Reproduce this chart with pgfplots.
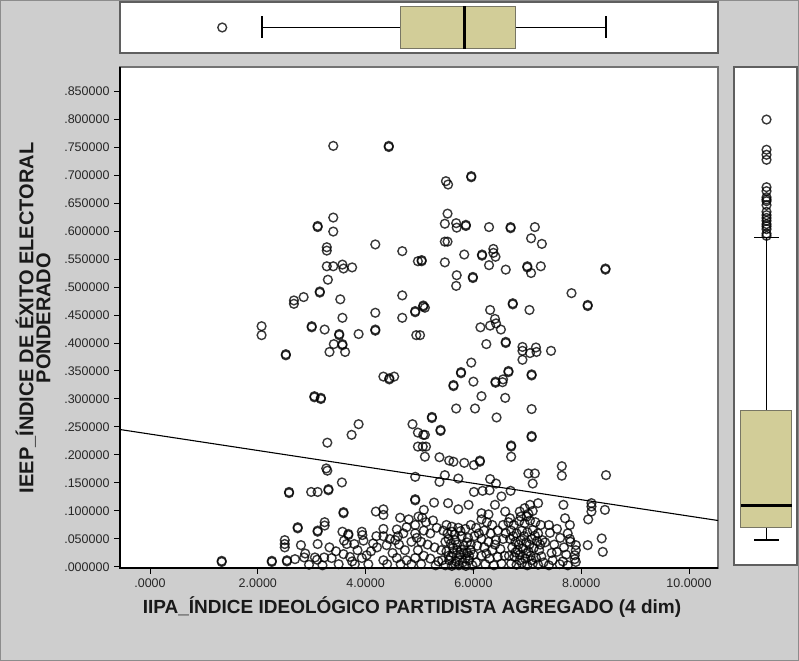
\documentclass[border=0pt]{standalone}
\usepackage{pgfplots}
\pgfplotsset{compat=1.18}
\usepackage{pgfplotstable}
\usepackage{fontspec}
\setmainfont{Liberation Sans}

\definecolor{chartbg}{RGB}{206,206,206}
\definecolor{boxfill}{RGB}{210,205,152}
\definecolor{boxedge}{RGB}{120,118,100}
\definecolor{framegray}{RGB}{95,95,95}

% IIPA (x) vs IEEP (y)
\pgfplotstableread{
x y
3.40 0.752
4.43 0.752
4.43 0.750
3.40 0.624
3.11 0.609
3.11 0.607
3.40 0.599
4.18 0.576
4.68 0.564
4.97 0.546
3.28 0.571
3.28 0.565
3.28 0.537
3.40 0.537
3.57 0.540
3.59 0.533
3.75 0.535
3.30 0.513
3.15 0.492
3.15 0.490
2.85 0.482
2.67 0.476
2.67 0.470
3.53 0.478
4.68 0.485
3.57 0.445
4.18 0.454
4.68 0.445
4.92 0.457
4.92 0.455
5.49 0.689
5.53 0.683
5.96 0.698
5.96 0.696
5.52 0.631
5.47 0.613
5.68 0.614
5.69 0.606
5.86 0.611
5.86 0.609
6.29 0.607
6.69 0.607
6.69 0.605
7.14 0.607
7.07 0.587
7.27 0.577
5.47 0.581
5.52 0.581
5.04 0.548
5.04 0.546
5.47 0.544
5.83 0.558
6.16 0.558
6.16 0.556
6.37 0.568
6.37 0.561
6.41 0.554
6.29 0.539
6.60 0.531
7.00 0.537
7.00 0.535
7.07 0.525
7.25 0.537
8.45 0.533
8.45 0.531
5.69 0.521
5.68 0.502
5.99 0.518
5.99 0.516
7.82 0.489
8.12 0.468
8.12 0.466
6.73 0.471
6.73 0.469
6.31 0.459
7.04 0.459
5.07 0.467
5.10 0.463
5.07 0.465
6.40 0.443
2.07 0.430
2.07 0.414
3.00 0.430
3.00 0.428
3.24 0.424
3.51 0.416
3.51 0.414
3.41 0.398
3.57 0.398
3.57 0.396
3.33 0.384
3.62 0.384
2.52 0.380
2.52 0.378
3.87 0.416
4.18 0.424
4.18 0.422
4.94 0.414
4.33 0.340
4.44 0.337
4.44 0.335
4.53 0.340
3.05 0.305
3.05 0.303
3.17 0.302
3.17 0.300
4.87 0.255
4.97 0.240
4.97 0.215
3.87 0.255
3.74 0.236
3.29 0.222
3.27 0.176
3.29 0.172
6.13 0.428
6.31 0.431
6.42 0.435
6.51 0.424
5.01 0.414
6.24 0.398
6.60 0.402
6.60 0.400
6.91 0.393
6.91 0.386
7.05 0.382
7.16 0.392
7.17 0.384
7.44 0.386
6.91 0.370
5.96 0.365
5.77 0.348
5.77 0.346
5.63 0.325
5.63 0.323
6.00 0.331
6.41 0.331
6.41 0.329
6.55 0.335
6.54 0.330
6.65 0.350
6.65 0.348
7.08 0.344
7.08 0.342
6.15 0.305
6.59 0.302
5.68 0.283
6.03 0.283
6.43 0.267
7.08 0.282
5.23 0.268
5.23 0.266
5.39 0.245
5.39 0.243
7.08 0.234
7.08 0.232
6.70 0.217
6.70 0.215
6.70 0.197
5.07 0.236
5.10 0.236
5.06 0.215
5.12 0.215
5.10 0.197
5.37 0.196
5.55 0.190
5.63 0.188
5.83 0.186
6.01 0.182
6.12 0.190
6.12 0.188
7.64 0.180
4.92 0.161
3.56 0.151
2.58 0.134
2.58 0.132
2.99 0.134
3.11 0.134
3.31 0.139
3.31 0.137
4.92 0.121
4.92 0.119
3.59 0.098
3.59 0.096
4.19 0.099
4.33 0.103
4.33 0.093
4.64 0.088
2.74 0.071
2.74 0.069
3.11 0.065
3.11 0.063
3.24 0.080
3.24 0.074
3.57 0.063
3.68 0.059
3.68 0.057
3.93 0.063
3.94 0.057
4.33 0.068
4.33 0.055
4.58 0.067
4.76 0.071
4.92 0.075
4.92 0.060
2.50 0.048
2.50 0.041
2.50 0.035
2.80 0.039
3.11 0.041
3.33 0.035
3.60 0.047
3.65 0.041
3.79 0.041
3.96 0.047
4.14 0.042
4.21 0.035
4.39 0.039
4.55 0.048
2.88 0.024
2.86 0.017
3.06 0.017
3.23 0.017
3.37 0.016
3.59 0.023
3.71 0.018
3.93 0.016
4.02 0.021
4.33 0.012
4.58 0.016
4.73 0.030
4.92 0.016
4.76 0.012
1.33 0.011
1.33 0.009
2.26 0.011
2.26 0.009
2.54 0.012
2.54 0.010
2.69 0.014
3.10 0.013
4.20 0.055
4.45 0.050
4.62 0.040
4.70 0.060
4.85 0.045
4.97 0.030
4.50 0.025
4.65 0.005
4.85 0.005
4.40 0.005
4.05 0.005
3.80 0.005
3.50 0.005
3.20 0.003
2.95 0.004
4.80 0.085
4.98 0.090
4.10 0.028
3.85 0.030
4.95 0.052
4.60 0.055
3.45 0.028
3.75 0.010
5.47 0.164
5.72 0.158
5.37 0.152
6.31 0.157
6.42 0.149
7.02 0.167
7.14 0.167
7.10 0.149
7.64 0.163
6.01 0.134
6.17 0.136
6.30 0.137
6.69 0.136
6.52 0.126
5.27 0.115
5.53 0.114
5.72 0.103
5.91 0.111
6.40 0.111
6.59 0.099
7.05 0.111
7.20 0.114
7.67 0.111
5.08 0.102
6.15 0.096
6.28 0.094
6.68 0.087
6.86 0.099
6.99 0.090
7.70 0.087
5.05 0.088
5.12 0.080
5.25 0.083
5.32 0.070
5.08 0.065
5.20 0.060
5.03 0.045
5.15 0.040
5.28 0.035
5.08 0.020
5.20 0.015
5.35 0.010
5.03 0.005
5.30 0.003
5.50 0.075
5.60 0.072
5.72 0.070
5.85 0.068
5.95 0.075
6.05 0.070
5.52 0.060
5.65 0.058
5.78 0.055
5.90 0.052
6.02 0.055
5.48 0.045
5.58 0.042
5.70 0.040
5.82 0.038
5.95 0.040
6.07 0.038
5.50 0.028
5.62 0.025
5.75 0.022
5.88 0.025
6.00 0.022
5.55 0.012
5.68 0.010
5.80 0.008
5.92 0.012
6.05 0.008
5.48 0.003
5.60 0.002
5.73 0.003
5.86 0.002
5.98 0.003
5.58 0.018
5.70 0.030
5.85 0.015
5.95 0.030
5.54 0.050
5.66 0.048
5.76 0.064
5.88 0.044
5.62 0.034
5.78 0.031
5.92 0.020
5.54 0.020
5.66 0.006
5.82 0.026
5.44 0.065
5.40 0.030
5.42 0.012
5.60 0.063
5.74 0.012
6.15 0.085
6.25 0.080
6.35 0.075
6.20 0.065
6.32 0.060
6.15 0.050
6.28 0.045
6.42 0.048
6.55 0.050
6.20 0.035
6.35 0.030
6.50 0.032
6.15 0.020
6.30 0.015
6.45 0.018
6.58 0.020
6.22 0.005
6.38 0.003
6.52 0.006
6.45 0.065
6.55 0.075
6.60 0.060
6.10 0.060
6.24 0.024
6.40 0.040
6.65 0.080
6.75 0.075
6.85 0.082
6.95 0.078
7.05 0.083
7.15 0.080
7.25 0.075
6.70 0.065
6.80 0.060
6.90 0.065
7.00 0.062
7.10 0.066
7.20 0.060
6.68 0.050
6.78 0.045
6.88 0.048
6.98 0.044
7.08 0.050
7.18 0.046
7.28 0.048
6.72 0.035
6.82 0.030
6.92 0.033
7.02 0.028
7.12 0.034
7.22 0.030
6.66 0.020
6.76 0.018
6.86 0.022
6.96 0.015
7.06 0.020
7.16 0.016
7.26 0.019
6.70 0.006
6.80 0.004
6.90 0.007
7.00 0.003
7.10 0.006
7.20 0.004
7.30 0.008
6.88 0.090
7.02 0.095
6.95 0.105
7.10 0.100
6.74 0.055
6.84 0.040
6.94 0.055
7.04 0.040
7.14 0.056
6.78 0.026
6.98 0.024
7.08 0.012
6.86 0.012
7.24 0.040
7.42 0.061
7.61 0.052
7.33 0.044
7.55 0.027
7.72 0.022
7.47 0.012
7.66 0.010
7.40 0.075
7.55 0.068
7.75 0.060
7.50 0.040
7.68 0.035
7.80 0.045
7.45 0.025
7.60 0.005
7.75 0.003
7.40 0.003
8.46 0.164
8.19 0.114
8.19 0.108
8.19 0.099
8.13 0.085
8.44 0.102
8.38 0.051
8.40 0.027
8.12 0.039
7.90 0.039
7.90 0.030
7.88 0.021
7.88 0.014
7.90 0.009
7.79 0.075
7.79 0.050
}\scatterdata

% outliers of the IEEP boxplot
\pgfplotstableread{
x y
0.516 0.752
0.516 0.698
0.516 0.689
0.516 0.680
0.516 0.631
0.516 0.624
0.516 0.613
0.516 0.609
0.516 0.606
0.516 0.599
0.516 0.587
0.516 0.581
0.516 0.576
0.516 0.571
0.516 0.565
0.516 0.561
0.516 0.556
0.516 0.548
0.516 0.544
}\ieepout

\pgfplotsset{
  panel/.style={
    scale only axis, anchor=south west,
    axis background/.style={fill=white},
    axis line style={draw=framegray, line width=1.2bp},
    xtick=\empty, ytick=\empty,
  },
  pts/.style={only marks, mark=o, mark size=4.4bp, line width=1.4bp,
    draw=black, draw opacity=0.78},
}

\begin{document}
\begin{tikzpicture}[x=1bp,y=1bp]
\fill[chartbg] (0,0) rectangle (799,661);
\draw[black!45, line width=0.8bp] (0.4,0.4) rectangle (798.6,660.6);
\useasboundingbox (0,0) rectangle (799,661);

% main scatter
\begin{axis}[
  at={(120bp,93bp)}, anchor=south west, scale only axis,
  width=598bp, height=501bp,
  xmin=-0.5566, xmax=10.538, ymin=-0.0018, ymax=0.8929,
  axis background/.style={fill=white},
  axis line style={draw=black!55, line width=1.2bp},
  xtick={0,2,4,6,8,10},
  xticklabels={.0000,2.0000,4.0000,6.0000,8.0000,10.0000},
  ytick={0,0.05,0.1,0.15,0.2,0.25,0.3,0.35,0.4,0.45,0.5,0.55,0.6,0.65,0.7,0.75,0.8,0.85},
  yticklabels={.000000,.050000,.100000,.150000,.200000,.250000,.300000,.350000,.400000,.450000,.500000,.550000,.600000,.650000,.700000,.750000,.800000,.850000},
  tick pos=left, tick align=outside, major tick length=6bp,
  tick style={black, line width=1bp},
  ticklabel style={font=\fontsize{12.5bp}{14bp}\selectfont, text=black!85},
  xticklabel style={yshift=-1bp},
  yticklabel style={xshift=-1bp},
  after end axis/.code={
    \draw[black, line width=1.4bp] (rel axis cs:0,1) -- (rel axis cs:0,0) -- (rel axis cs:1,0);
  },
]
\addplot[pts] table[x=x, y=y] {\scatterdata};
% fit line
\addplot[black, line width=1.1bp] coordinates {(-0.5566,0.2455) (10.538,0.0830)};
\end{axis}

% top boxplot: IIPA
\begin{axis}[panel, at={(120bp,608bp)}, width=598bp, height=51bp,
  xmin=-0.5566, xmax=10.538, ymin=0, ymax=1]
\addplot[black, line width=1.8bp] coordinates {(2.08,0.5) (4.64,0.5)};
\addplot[black, line width=1.8bp] coordinates {(6.79,0.5) (8.46,0.5)};
\addplot[black, line width=1.8bp] coordinates {(2.08,0.30) (2.08,0.72)};
\addplot[black, line width=1.8bp] coordinates {(8.46,0.30) (8.46,0.72)};
\addplot[fill=boxfill, draw=boxedge, line width=1bp] coordinates {(4.64,0.08) (6.79,0.08) (6.79,0.92) (4.64,0.92)} --cycle;
\addplot[black, line width=2.6bp] coordinates {(5.83,0.08) (5.83,0.92)};
\addplot[pts] coordinates {(1.34,0.5)};
\end{axis}

% right boxplot: IEEP
\begin{axis}[panel, at={(734bp,96bp)}, width=63bp, height=498bp,
  xmin=0, xmax=1, ymin=-0.0447, ymax=0.846]
\addplot[black, line width=1.8bp] coordinates {(0.516,0) (0.516,0.023)};
\addplot[black, line width=1.8bp] coordinates {(0.516,0.2308) (0.516,0.541)};
\addplot[black, line width=1.8bp] coordinates {(0.32,0) (0.71,0)};
\addplot[black, line width=1.8bp] coordinates {(0.32,0.541) (0.71,0.541)};
\addplot[fill=boxfill, draw=boxedge, line width=1bp] coordinates {(0.11,0.023) (0.92,0.023) (0.92,0.2308) (0.11,0.2308)} --cycle;
\addplot[black, line width=2.6bp] coordinates {(0.11,0.0614) (0.92,0.0614)};
\addplot[pts] table[x=x, y=y] {\ieepout};
\end{axis}

% axis titles
\node[font=\bfseries\fontsize{19bp}{20bp}\selectfont, text=black!90] at (412,54) {IIPA\_ÍNDICE IDEOLÓGICO PARTIDISTA AGREGADO (4 dim)};
\node[rotate=90, align=center, font=\bfseries\fontsize{20bp}{17bp}\selectfont, text=black!90] at (33,343) {IEEP\_ÍNDICE DE ÉXITO ELECTORAL\\PONDERADO};
\end{tikzpicture}
\end{document}
